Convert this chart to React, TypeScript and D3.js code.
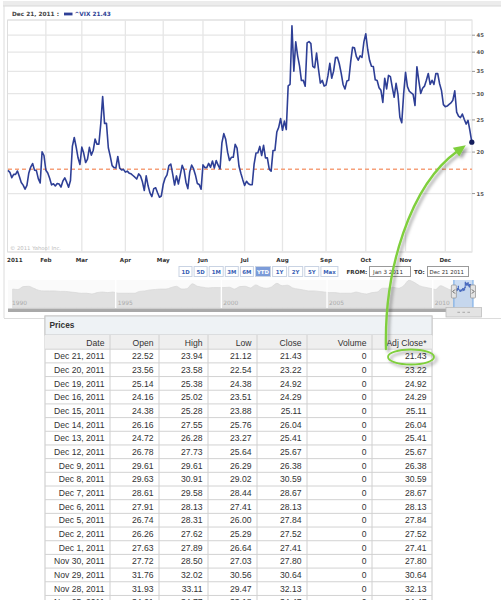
import React from "react";
import * as d3 from "d3";

// ^VIX daily closes, 2011 (trading days per month)
const jan = [17.61,17.38,16.75,17.14,17.14,17.54,16.89,16.2,15.9,15.46,15.87,17.31,18.03,18.47,17.65,17.59,16.64,16.15,20.04,19.53];
const feb = [17.63,17.30,16.69,15.93,16.06,15.81,16.09,16.03,15.69,16.37,16.72,16.23,15.67,16.43,20.80,22.13,20.72,19.22,18.35];
const mar = [20.70,19.83,18.60,19.06,20.66,19.58,20.22,21.88,21.13,21.13,24.32,29.40,24.41,24.44,20.61,19.44,18.21,17.96,17.91,19.40,17.90,17.68,17.74];
const apr = [17.40,17.52,17.28,17.20,17.00,16.80,16.59,17.19,16.95,16.27,15.32,16.96,15.83,15.07,14.69,15.52,15.62,15.09,14.62,14.75];
const may = [15.99,16.70,17.08,18.20,18.40,17.16,15.91,16.95,16.03,17.07,18.24,17.67,16.23,15.52,17.43,18.27,17.82,17.07,16.09,15.98,15.45];
const jun = [18.30,17.95,17.95,18.49,17.99,18.79,17.90,18.86,18.26,17.80,21.32,22.73,21.85,19.99,18.86,19.29,19.29,21.10,20.56,18.16,17.27,16.52];
const jul = [15.87,16.34,16.06,15.95,15.95,18.39,19.87,19.91,20.80,19.53,20.95,19.21,19.21,17.77,17.52,20.23,20.23,22.98,23.74,25.25];
const aug = [23.26,24.79,23.38,31.66,32.00,48.00,35.06,42.99,39.00,36.36,32.85,32.88,31.58,42.67,43.05,42.44,36.27,35.90,39.76,35.59,32.28,32.89,31.62];
const sep = [31.82,33.92,37.00,33.38,35.06,38.52,38.59,36.91,34.60,31.97,30.98,32.73,32.91,37.32,41.35,41.25,38.84,37.84,39.02,38.55,42.96];
const oct = [45.45,40.82,37.81,36.27,36.20,33.02,32.86,31.26,30.70,28.24,33.39,31.00,34.04,33.75,31.32,29.26,32.22,29.86,25.46,24.53,29.96];
const nov = [34.77,31.50,30.50,30.16,29.85,27.62,36.16,32.81,30.04,31.13,31.60,32.91,34.51,32.00,32.91,31.97,34.47,34.47,32.13,30.64,27.80];
const dec = [27.41,27.52,27.84,28.13,28.67,30.59,26.38,25.67,25.41,26.04,25.11,24.29,24.92,23.22,21.43];
const monthCloses = [jan, feb, mar, apr, may, jun, jul, aug, sep, oct, nov, dec];
const monthLabels = ["2011","Feb","Mar","Apr","May","Jun","Jul","Aug","Sep","Oct","Nov","Dec"];
const yTicks = [15, 20, 25, 30, 35, 40, 45];
const yGrid = [10, 15, 20, 25, 30, 35, 40, 45, 50];
const prevClose = 17.75;
const headerDate = "Dec 21, 2011 :";
const headerSeries = "^VIX 21.43";
const copyright = "\u00a9 2011 Yahoo! Inc.";

// navigator: quarterly VIX levels 1990–2011
const navQuarterly = [
  20,19,27,28, 22,17,16,16, 16,15,15,14, 13,12,12,11, 13,14,13,14,
  12,12,12,12, 15,16,18,19, 20,20,24,28, 20,21,38,28, 25,23,24,24,
  24,25,20,27, 28,23,33,25, 22,26,40,30, 32,23,20,18, 16,16,15,14,
  13,13,12,12, 12,14,12,11, 13,14,22,22, 25,22,30,58, 45,30,25,22,
  19,30,23,18, 18,18,38,30,
];
const navYearLabels = [1990, 1995, 2000, 2005, 2010];

const rangeButtons = ["1D","5D","1M","3M","6M","YTD","1Y","2Y","5Y","Max"];
const activeRange = "YTD";
const fromText = "Jan 3 2011";
const toText = "Dec 21 2011";

const tableTitle = "Prices";
const tableColumns = ["Date","Open","High","Low","Close","Volume","Adj Close*"];
const tableDates = ["Dec 21, 2011","Dec 20, 2011","Dec 19, 2011","Dec 16, 2011","Dec 15, 2011","Dec 14, 2011","Dec 13, 2011","Dec 12, 2011","Dec 9, 2011","Dec 8, 2011","Dec 7, 2011","Dec 6, 2011","Dec 5, 2011","Dec 2, 2011","Dec 1, 2011","Nov 30, 2011","Nov 29, 2011","Nov 28, 2011","Nov 25, 2011"];
const tableOpen = ["22.52","23.56","25.14","24.16","24.38","26.16","24.72","26.78","29.61","29.63","28.61","27.91","26.74","26.26","27.63","27.72","31.76","31.93","34.61"];
const tableHigh = ["23.94","23.58","25.38","25.02","25.28","27.55","26.28","27.73","29.61","30.91","29.58","28.13","28.31","27.62","27.89","28.50","32.02","33.11","34.77"];
const tableLow = ["21.12","22.54","24.38","23.51","23.88","25.76","23.27","25.64","26.29","29.02","28.44","27.41","26.00","25.29","26.64","27.03","30.56","29.47","33.18"];
const tableClose = ["21.43","23.22","24.92","24.29","25.11","26.04","25.41","25.67","26.38","30.59","28.67","28.13","27.84","27.52","27.41","27.80","30.64","32.13","34.47"];
const tableVolume = ["0","0","0","0","0","0","0","0","0","0","0","0","0","0","0","0","0","0","0"];
const tableAdj = ["21.43","23.22","24.92","24.29","25.11","26.04","25.41","25.67","26.38","30.59","28.67","28.13","27.84","27.52","27.41","27.80","30.64","32.13","34.47"];

const CF = "'DejaVu Sans', Verdana, sans-serif";
const TF = "'Liberation Sans', Arial, sans-serif";
const BLUE = "#2e3f96";
const GREEN = "#7fcf3c";

export default function App() {
  const W = 501, H = 600;
  const closes = monthCloses.flat();
  const starts: number[] = [];
  let acc = 0;
  monthCloses.forEach((m) => { starts.push(acc); acc += m.length; });

  const plotL = 8, plotR = 472, plotT = 20, plotB = 252;
  const x = d3.scaleLinear().domain([0, closes.length - 1]).range([plotL, 471.8]);
  const y = d3.scaleLog().domain([10, 50]).range([plotB, plotT]);
  const linePath = d3.line<number>().x((_, i) => x(i)).y((d) => y(d))(closes) || "";
  const lastX = x(closes.length - 1), lastY = y(closes[closes.length - 1]);

  // navigator
  const xYear = d3.scaleLinear().domain([1990, 2012]).range([10, 475]);
  const navY = d3.scaleLog().domain([2, 60]).range([308, 280]);
  const navArea = d3.area<number>()
    .x((_, i) => Math.max(8, xYear(1990 + i / 4 + 0.125)))
    .y0(308).y1((d) => navY(d)).curve(d3.curveMonotoneX)(navQuarterly) || "";
  const selX0 = xYear(2011), selX1 = 473;
  const xMini = d3.scaleLinear().domain([0, closes.length - 1]).range([selX0 + 1, selX1 - 1]);
  const miniLine = d3.line<number>().x((_, i) => xMini(i)).y((d) => navY(d))(closes) || "";

  // range buttons layout
  const btnW = [13, 13, 14, 13, 13, 15, 14, 14, 14, 17];
  let bx = 179;
  const btns = rangeButtons.map((b, i) => { const o = { b, x: bx, w: btnW[i] }; bx += btnW[i] + 2.1; return o; });

  // table layout
  const colEdges = [45, 110, 159, 208, 257, 307, 372, 432];
  const rowTop0 = 349.2, rowH = 13.68;
  const cols = [tableDates, tableOpen, tableHigh, tableLow, tableClose, tableVolume, tableAdj];

  // annotation (arrow from table cell to last data point)
  const tip: [number, number] = [lastX - 6, lastY + 3];
  const p0: [number, number] = [386, 349];
  const c1: [number, number] = [384, 270];
  const c2: [number, number] = [410, 185];
  const ang = Math.atan2(tip[1] - c2[1], tip[0] - c2[0]);
  const ah = 12, aw = 5.5;
  const base: [number, number] = [tip[0] - ah * Math.cos(ang), tip[1] - ah * Math.sin(ang)];
  const curveEnd: [number, number] = [tip[0] - (ah - 2) * Math.cos(ang), tip[1] - (ah - 2) * Math.sin(ang)];
  const head = [
    tip,
    [base[0] + aw * Math.sin(ang), base[1] - aw * Math.cos(ang)],
    [base[0] - aw * Math.sin(ang), base[1] + aw * Math.cos(ang)],
  ].map((p) => p.join(",")).join(" ");
  const arrowPath = `M${p0[0]},${p0[1]} C${c1[0]},${c1[1]} ${c2[0]},${c2[1]} ${curveEnd[0]},${curveEnd[1]}`;

  return (
    <svg width={W} height={H} style={{ position: "absolute", left: 0, top: 0, background: "#fff" }}>
      <defs>
        <filter id="sh" x="-20%" y="-20%" width="140%" height="140%">
          <feDropShadow dx="2.5" dy="2.5" stdDeviation="1.4" floodColor="#000" floodOpacity="0.35" />
        </filter>
      </defs>
      {/* chart panel frame */}
      <rect x={3} y={1} width={498} height={5} fill="#ececec" />
      <line x1={3} x2={501} y1={6} y2={6} stroke="#d8d8d8" />
      <line x1={4} x2={4} y1={6} y2={318} stroke="#dcdcdc" />
      <line x1={4} x2={501} y1={318.5} y2={318.5} stroke="#dcdcdc" />

      {/* header */}
      <text x={12} y={16.3} fontFamily={CF} fontSize={5.8} fontWeight="bold" fill="#444">{headerDate}</text>
      <rect x={64} y={12.6} width={8.5} height={2.8} fill={BLUE} />
      <text x={74.5} y={16.3} fontFamily={CF} fontSize={5.8} fontWeight="bold" fill={BLUE}>{headerSeries}</text>

      {/* plot */}
      <rect x={plotL - 0.5} y={plotT} width={plotR - plotL + 0.5} height={plotB - plotT} fill="#fff" stroke="#dedede" />
      {yGrid.map((v) => (
        <line key={"g" + v} x1={plotL} x2={plotR} y1={y(v)} y2={y(v)} stroke="#e6e6e6" strokeWidth={1.3} />
      ))}
      {starts.slice(1).map((s, i) => (
        <line key={"v" + i} x1={x(s)} x2={x(s)} y1={plotT} y2={plotB} stroke="#e6e6e6" strokeWidth={1.3} />
      ))}
      <line x1={plotL} x2={plotR} y1={y(prevClose)} y2={y(prevClose)} stroke="#f6a07a" strokeWidth={1.4} strokeDasharray="4,3" />
      <text x={10} y={249.5} fontFamily={CF} fontSize={5.3} fill="#bdbdbd">{copyright}</text>
      <path d={linePath} fill="none" stroke={BLUE} strokeWidth={1.6} strokeLinejoin="round" />
      <circle cx={lastX} cy={lastY} r={2.6} fill="#141d5c" />

      {/* right axis */}
      {yTicks.map((v) => (
        <g key={"t" + v}>
          <line x1={plotR} x2={plotR + 3} y1={y(v)} y2={y(v)} stroke="#999" />
          <text x={plotR + 4.5} y={y(v) + 2} fontFamily={CF} fontSize={5.3} fontWeight="bold" fill="#555">{v}</text>
        </g>
      ))}
      {/* month labels */}
      {monthLabels.map((m, i) => (
        <text key={m} x={i === 0 ? 7 : x(starts[i])} y={261.5} textAnchor={i === 0 ? "start" : "middle"}
          fontFamily={CF} fontSize={5.6} fontWeight="bold" fill="#333">{m}</text>
      ))}

      {/* range buttons */}
      {btns.map(({ b, x: bx0, w }) => (
        <g key={b}>
          <rect x={bx0} y={266.5} width={w} height={10} fill={b === activeRange ? "#7c9cd9" : "#fff"} stroke="#c9d3e3" />
          <text x={bx0 + w / 2} y={274} textAnchor="middle" fontFamily={CF} fontSize={5.4} fontWeight="bold"
            fill={b === activeRange ? "#fff" : "#3a5fb5"}>{b}</text>
        </g>
      ))}
      <text x={346.5} y={274} fontFamily={CF} fontSize={5.6} fontWeight="bold" fill="#333">FROM:</text>
      <rect x={369.5} y={266.5} width={41} height={10} fill="#fff" stroke="#9a9a9a" />
      <text x={373} y={274} fontFamily={CF} fontSize={5.6} fill="#333">{fromText}</text>
      <text x={414} y={274} fontFamily={CF} fontSize={5.6} fontWeight="bold" fill="#333">TO:</text>
      <rect x={427.5} y={266.5} width={41} height={10} fill="#fff" stroke="#9a9a9a" />
      <text x={429.5} y={274} fontFamily={CF} fontSize={5.4} fill="#333">{toText}</text>

      {/* navigator */}
      <rect x={8} y={280} width={465} height={28} fill="#fafafa" />
      <path d={navArea} fill="#e1e1e1" stroke="#d4d4d4" strokeWidth={0.6} />
      {navYearLabels.slice(1).map((yr) => (
        <line key={"s" + yr} x1={xYear(yr)} x2={xYear(yr)} y1={280} y2={308} stroke="#fff" strokeWidth={1.4} />
      ))}
      {navYearLabels.map((yr) => (
        <text key={"y" + yr} x={xYear(yr) + 2} y={305} fontFamily={CF} fontSize={5.9} fill="#ababab">{yr}</text>
      ))}
      <rect x={selX0} y={280} width={selX1 - selX0} height={28} fill="#bcd3f0" fillOpacity={0.75} />
      <path d={miniLine} fill="none" stroke="#4a6cc0" strokeWidth={1} />
      <line x1={selX0} x2={selX0} y1={280} y2={308} stroke="#6ea6e6" />
      <line x1={selX1} x2={selX1} y1={280} y2={308} stroke="#6ea6e6" />
      {[selX0, selX1].map((hx, i) => (
        <g key={"h" + i}>
          <rect x={hx - 2.5} y={285} width={5} height={13} rx={1} fill="#e4e4e4" stroke="#8f8f8f" strokeWidth={0.7} />
          <path d={i === 0 ? `M${hx + 1},${289.5} L${hx - 1},${291.5} L${hx + 1},${293.5}` : `M${hx - 1},${289.5} L${hx + 1},${291.5} L${hx - 1},${293.5}`}
            fill="none" stroke="#333" strokeWidth={0.8} />
        </g>
      ))}
      <rect x={8} y={308.5} width={438} height={3.5} fill="#a9a9a9" />
      <rect x={446} y={307.5} width={35.5} height={9.5} fill="#e3e3e3" stroke="#bdbdbd" strokeWidth={0.8} />
      {[-5, 0, 5].map((d) => (
        <line key={"d" + d} x1={463.7 + d - 1.3} x2={463.7 + d + 1.3} y1={312.3} y2={312.3} stroke="#999" strokeWidth={0.8} />
      ))}

      {/* prices table */}
      <rect x={45} y={316} width={387} height={300} fill="#fff" stroke="#c8c8c8" />
      <rect x={45} y={316} width={387} height={19} fill="#eef2f5" stroke="#c8c8c8" />
      <text x={49.5} y={328} fontFamily={TF} fontSize={8.3} fontWeight="bold" fill="#333">{tableTitle}</text>
      <rect x={45} y={335} width={387} height={rowTop0 - 335} fill="#efefef" />
      {tableDates.map((_, r) => (
        <line key={"r" + r} x1={45} x2={432} y1={rowTop0 + r * rowH} y2={rowTop0 + r * rowH} stroke="#d2d2d2" strokeWidth={1} />
      ))}
      {colEdges.slice(1, -1).map((cx) => (
        <line key={"c" + cx} x1={cx} x2={cx} y1={335} y2={620} stroke="#d0d0d0" />
      ))}
      {tableColumns.map((c, j) => (
        <text key={c} x={colEdges[j + 1] - 5.5} y={345.5} textAnchor="end" fontFamily={TF} fontSize={8.6} fill="#333">{c}</text>
      ))}
      {cols.map((col, j) => col.map((v, r) => (
        <text key={j + "-" + r} x={colEdges[j + 1] - 5.5} y={rowTop0 + r * rowH + 10} textAnchor="end"
          fontFamily={TF} fontSize={8.6} fill="#333">{v}</text>
      )))}

      {/* annotation */}
      <g filter="url(#sh)">
        <path d={arrowPath} fill="none" stroke={GREEN} strokeWidth={2.4} strokeLinecap="round" />
        <polygon points={head} fill={GREEN} />
        <ellipse cx={411} cy={357} rx={23} ry={7.5} fill="none" stroke={GREEN} strokeWidth={1.8} />
      </g>
    </svg>
  );
}
